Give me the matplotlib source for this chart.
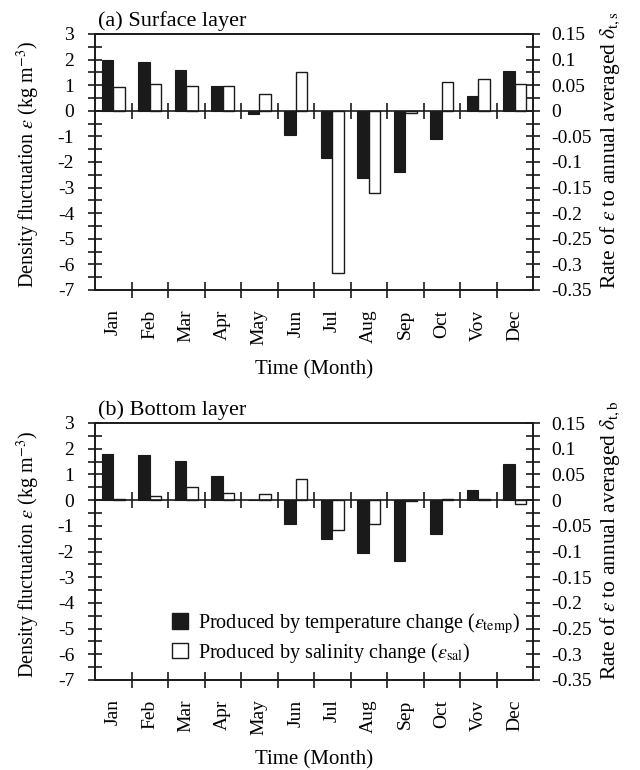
import matplotlib
matplotlib.use("Agg")
import matplotlib.pyplot as plt
import numpy as np
from matplotlib.ticker import MultipleLocator, FixedLocator, NullFormatter, FuncFormatter
from matplotlib.patches import Patch

plt.rcParams['font.family'] = ['Liberation Serif', 'DejaVu Serif']
plt.rcParams['mathtext.fontset'] = 'stix'

months = ['Jan', 'Feb', 'Mar', 'Apr', 'May', 'Jun', 'Jul', 'Aug', 'Sep', 'Oct', 'Vov', 'Dec']
surf_temp = [1.98, 1.89, 1.61, 0.98, -0.14, -0.96, -1.84, -2.64, -2.38, -1.10, 0.59, 1.54]
surf_sal = [0.94, 1.03, 0.96, 0.98, 0.65, 1.50, -6.35, -3.23, -0.10, 1.12, 1.25, 1.03]
bot_temp = [1.78, 1.74, 1.52, 0.94, 0.0, -0.93, -1.53, -2.06, -2.37, -1.31, 0.41, 1.40]
bot_sal = [0.03, 0.17, 0.52, 0.26, 0.24, 0.81, -1.17, -0.94, -0.05, 0.05, 0.03, -0.16]

panels = [
    ('(a) Surface layer', surf_temp, surf_sal, r'Rate of $\varepsilon$ to annual averaged $\delta_{\mathrm{t,s}}$'),
    ('(b) Bottom layer', bot_temp, bot_sal, r'Rate of $\varepsilon$ to annual averaged $\delta_{\mathrm{t,b}}$'),
]

fig = plt.figure(figsize=(6.4, 7.7), dpi=100)
W, H = 640, 770
axes_pos = [(95, 34, 533, 290), (95, 423, 533, 680)]

fs = 14
x = np.arange(len(months))
bw = 0.31
ink = '#1a1a1a'

def fmt(v, pos):
    s = '%g' % v
    if s == '-0':
        s = '0'
    return s

for (title, temp, sal, rlabel), (l, t, r, b) in zip(panels, axes_pos):
    ax = fig.add_axes([l / W, 1 - b / H, (r - l) / W, (b - t) / H])
    ax.bar(x - bw / 2, temp, width=bw, color=ink, edgecolor=ink, linewidth=0.8)
    ax.bar(x + bw / 2, sal, width=bw, color='white', edgecolor=ink, linewidth=1.0)
    ax.axhline(0, color=ink, linewidth=1.2, zorder=3)
    bounds = np.arange(len(months) - 1) + 0.5
    ax.vlines(bounds, -0.31, 0.31, color=ink, linewidth=1.2, zorder=3)
    ax.set_xlim(-0.5, len(months) - 0.5)
    ax.set_ylim(-7, 3)
    ax.xaxis.set_major_locator(FixedLocator(bounds))
    ax.xaxis.set_major_formatter(NullFormatter())
    ax.set_xticks(x, months, minor=True, rotation=90, fontsize=fs)
    ax.tick_params(axis='x', which='major', direction='inout', length=11, width=1.2, color=ink)
    ax.tick_params(axis='x', which='minor', length=0, pad=14)
    ax.yaxis.set_major_locator(MultipleLocator(1))
    ax.yaxis.set_minor_locator(MultipleLocator(0.5))
    ax.yaxis.set_major_formatter(FuncFormatter(fmt))
    ax.tick_params(axis='y', which='both', direction='inout', length=10, width=1.2,
                   labelsize=fs, pad=10, color=ink)
    ax.set_xlabel('Time (Month)', fontsize=fs + 1, labelpad=11)
    ax.set_ylabel(r'Density fluctuation $\varepsilon$ (kg m$^{-3}$)', fontsize=fs + 0.5)
    ax.yaxis.set_label_coords(-0.122, 0.49)
    for sp in ax.spines.values():
        sp.set_linewidth(1.2)
        sp.set_color(ink)
    ax.text(0.006, 1.012, title, transform=ax.transAxes, fontsize=fs + 2, ha='left', va='bottom')

    ax2 = ax.twinx()
    ax2.set_ylim(-0.35, 0.15)
    ax2.yaxis.set_major_locator(MultipleLocator(0.05))
    ax2.yaxis.set_minor_locator(MultipleLocator(0.025))
    ax2.yaxis.set_major_formatter(FuncFormatter(fmt))
    ax2.tick_params(axis='y', which='both', direction='inout', length=10, width=1.2,
                    labelsize=fs, pad=8, color=ink)
    ax2.set_ylabel(rlabel, fontsize=fs + 1.5)
    ax2.yaxis.set_label_coords(1.15, 0.545)
    for sp in ax2.spines.values():
        sp.set_linewidth(1.2)
        sp.set_color(ink)

    if title.startswith('(b)'):
        handles = [Patch(facecolor=ink, edgecolor=ink),
                   Patch(facecolor='white', edgecolor=ink)]
        labels = [r'Produced by temperature change ($\varepsilon_{\mathrm{temp}}$)',
                  r'Produced by salinity change ($\varepsilon_{\mathrm{sal}}$)']
        ax.legend(handles, labels, loc='center left', bbox_to_anchor=(0.176, 0.165),
                  frameon=False, fontsize=fs + 0.5, handlelength=0.8, handleheight=0.8,
                  handletextpad=0.5, labelspacing=0.25, borderaxespad=0, borderpad=0)

fig.savefig('out.png', dpi=100)
